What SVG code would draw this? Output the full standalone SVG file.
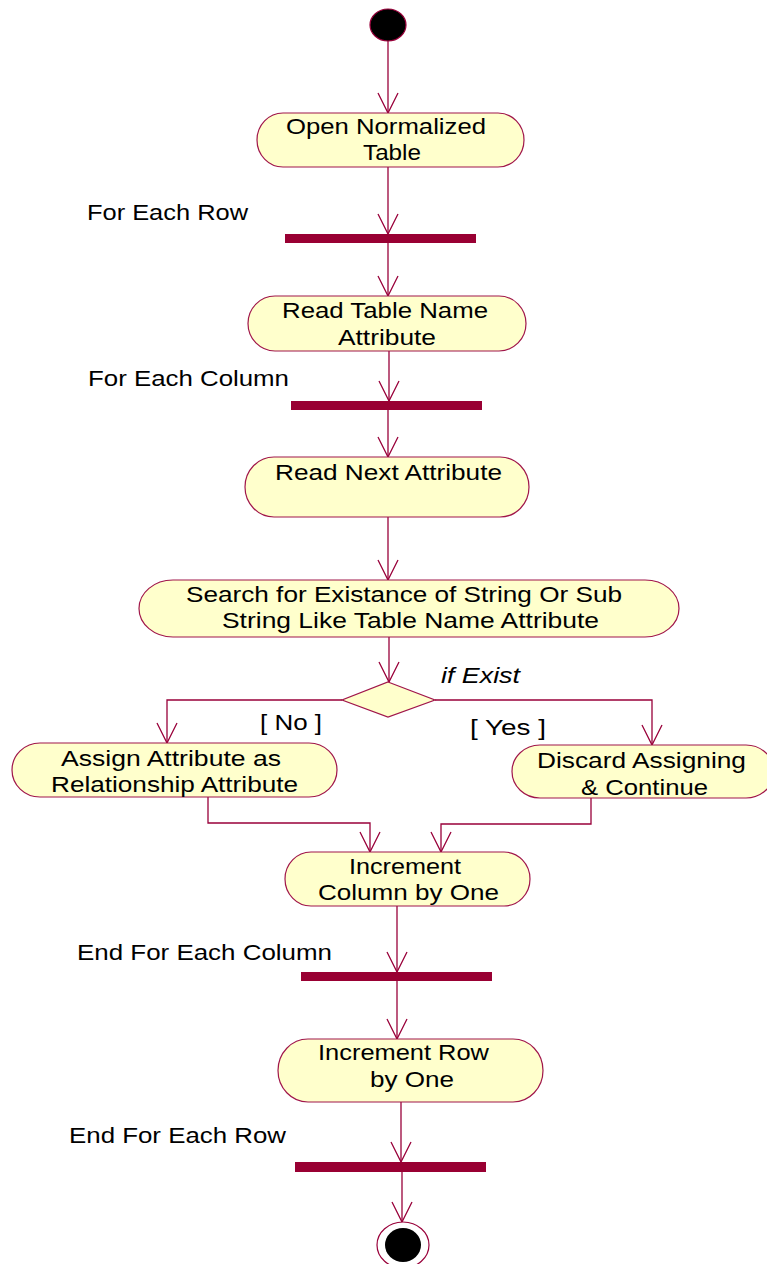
<svg xmlns="http://www.w3.org/2000/svg" width="767" height="1264" viewBox="0 0 767 1264">
  <style>
    .node { fill: #ffffcc; stroke: #a0164a; stroke-width: 1.2; }
    .bar { fill: #990033; }
    .edge { fill: none; stroke: #99003a; stroke-width: 1.3; }
    text { font-family: "Liberation Sans", Arial, sans-serif; font-size: 22px; fill: #000; }
    .it { font-style: italic; }
  </style>
  <defs>
    <marker id="arrow" viewBox="0 0 22 22" refX="21" refY="11" markerWidth="22" markerHeight="22" markerUnits="userSpaceOnUse" orient="auto">
      <path d="M1,1 L21,11 L1,21" fill="none" stroke="#99003a" stroke-width="1.3"/>
    </marker>
  </defs>

  <rect width="767" height="1264" fill="#ffffff"/>

  <!-- connectors -->
  <g id="connectors" class="edge" marker-end="url(#arrow)">
    <path d="M388,41 V113"/>
    <path d="M388,167 V234"/>
    <path d="M388,243 V296"/>
    <path d="M389,351 V401"/>
    <path d="M388,410 V457"/>
    <path d="M388,517 V580"/>
    <path d="M389,637 V682"/>
    <path d="M342,700 H167 V743"/>
    <path d="M435,700 H652 V745"/>
    <path d="M208,797 V823 H370 V852"/>
    <path d="M591,798 V824 H441 V852"/>
    <path d="M397,906 V972"/>
    <path d="M397,981 V1039"/>
    <path d="M401,1102 V1162"/>
    <path d="M402,1172 V1222"/>
  </g>

  <!-- initial state -->
  <g id="start">
    <ellipse cx="388" cy="25" rx="18" ry="16" fill="#000" stroke="#99003a" stroke-width="1.2"/>
  </g>

  <g id="open-table">
    <rect class="node" x="257" y="113" width="267" height="54" rx="26" ry="27"/>
    <text x="286" y="134" textLength="200" lengthAdjust="spacingAndGlyphs">Open Normalized</text>
    <text x="363" y="160" textLength="58" lengthAdjust="spacingAndGlyphs">Table</text>
  </g>

  <g id="for-each-row">
    <text x="87" y="220" textLength="161" lengthAdjust="spacingAndGlyphs">For Each Row</text>
    <rect class="bar" x="285" y="234" width="191" height="9"/>
  </g>

  <g id="read-table-name">
    <rect class="node" x="248" y="296" width="278" height="55" rx="27" ry="27.5"/>
    <text x="282" y="318" textLength="206" lengthAdjust="spacingAndGlyphs">Read Table Name</text>
    <text x="338" y="345" textLength="98" lengthAdjust="spacingAndGlyphs">Attribute</text>
  </g>

  <g id="for-each-column">
    <text x="88" y="386" textLength="201" lengthAdjust="spacingAndGlyphs">For Each Column</text>
    <rect class="bar" x="291" y="401" width="191" height="9"/>
  </g>

  <g id="read-next-attribute">
    <rect class="node" x="245" y="457" width="284" height="60" rx="29" ry="30"/>
    <text x="275" y="480" textLength="227" lengthAdjust="spacingAndGlyphs">Read Next Attribute</text>
  </g>

  <g id="search">
    <rect class="node" x="139" y="580" width="540" height="57" rx="34" ry="28.5"/>
    <text x="186" y="602" textLength="436" lengthAdjust="spacingAndGlyphs">Search for Existance of String Or Sub</text>
    <text x="222" y="628" textLength="377" lengthAdjust="spacingAndGlyphs">String Like Table Name Attribute</text>
  </g>

  <g id="decision">
    <polygon class="node" points="388,682 435,700 388,717 342,700"/>
    <text class="it" x="441" y="683" textLength="79" lengthAdjust="spacingAndGlyphs">if Exist</text>
    <text x="260" y="730" textLength="62" lengthAdjust="spacingAndGlyphs">[ No ]</text>
    <text x="470" y="735" textLength="76" lengthAdjust="spacingAndGlyphs">[ Yes ]</text>
  </g>

  <g id="assign">
    <rect class="node" x="12" y="743" width="325" height="54" rx="28" ry="27"/>
    <text x="61" y="766" textLength="220" lengthAdjust="spacingAndGlyphs">Assign Attribute as</text>
    <text x="51" y="792" textLength="247" lengthAdjust="spacingAndGlyphs">Relationship Attribute</text>
  </g>

  <g id="discard">
    <rect class="node" x="512" y="745" width="262" height="53" rx="28" ry="26.5"/>
    <text x="537" y="768" textLength="209" lengthAdjust="spacingAndGlyphs">Discard Assigning</text>
    <text x="581" y="795" textLength="127" lengthAdjust="spacingAndGlyphs">&amp; Continue</text>
  </g>

  <g id="increment-column">
    <rect class="node" x="285" y="852" width="245" height="54" rx="26" ry="27"/>
    <text x="349" y="874" textLength="112" lengthAdjust="spacingAndGlyphs">Increment</text>
    <text x="318" y="900" textLength="181" lengthAdjust="spacingAndGlyphs">Column by One</text>
  </g>

  <g id="end-for-each-column">
    <text x="77" y="960" textLength="255" lengthAdjust="spacingAndGlyphs">End For Each Column</text>
    <rect class="bar" x="301" y="972" width="191" height="9"/>
  </g>

  <g id="increment-row">
    <rect class="node" x="278" y="1039" width="265" height="63" rx="30" ry="31.5"/>
    <text x="318" y="1060" textLength="171" lengthAdjust="spacingAndGlyphs">Increment Row</text>
    <text x="370" y="1087" textLength="84" lengthAdjust="spacingAndGlyphs">by One</text>
  </g>

  <g id="end-for-each-row">
    <text x="69" y="1143" textLength="217" lengthAdjust="spacingAndGlyphs">End For Each Row</text>
    <rect class="bar" x="295" y="1162" width="191" height="10"/>
  </g>

  <!-- final state -->
  <g id="end">
    <ellipse cx="403" cy="1245" rx="26" ry="23" fill="#fff" stroke="#99003a" stroke-width="1.2"/>
    <ellipse cx="403" cy="1245" rx="18" ry="17" fill="#000"/>
  </g>
</svg>
